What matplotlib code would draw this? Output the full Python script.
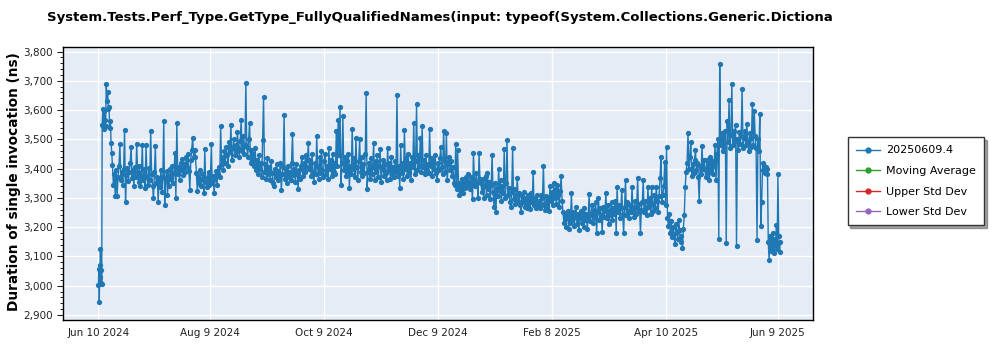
import matplotlib
matplotlib.use("Agg")
import matplotlib.pyplot as plt
from matplotlib.lines import Line2D
from matplotlib.ticker import FuncFormatter, MultipleLocator
import pandas as pd

title = "System.Tests.Perf_Type.GetType_FullyQualifiedNames(input: typeof(System.Collections.Generic.Dictiona"
ylabel = "Duration of single invocation (ns)"
legend_labels = ["20250609.4", "Moving Average", "Upper Std Dev", "Lower Std Dev"]
legend_colors = ["#1f77b4", "#2ca02c", "#d62728", "#9467bd"]
xtick_labels = ["Jun 10 2024", "Aug 9 2024", "Oct 9 2024", "Dec 9 2024",
                "Feb 8 2025", "Apr 10 2025", "Jun 9 2025"]

# measured durations (ns), grouped by period
jun24_a = [3002, 3057, 2945, 3031, 3071, 3124, 3010, 3055, 3007]
jun24_b = [3550, 3602, 3535, 3598, 3566, 3545, 3689, 3630, 3663, 3602, 3610, 3540,
           3561, 3489, 3453, 3413]
jun24_c = [3344, 3380, 3308, 3395, 3307, 3372, 3410, 3483, 3360, 3390, 3345, 3400,
           3532, 3285, 3378, 3402, 3356, 3390, 3420, 3473, 3368, 3395, 3340, 3405,
           3372, 3483]
jul24 = [3390, 3355, 3410, 3340, 3375, 3481, 3362, 3398, 3335, 3480, 3370, 3345,
         3402, 3360, 3529, 3380, 3342, 3299, 3388, 3477, 3350, 3372, 3287, 3365,
         3338, 3395, 3320, 3370, 3564, 3276, 3360, 3392, 3310, 3375, 3340, 3398,
         3365, 3410, 3350, 3385, 3453, 3299, 3557, 3380, 3405, 3360, 3420, 3395,
         3432, 3378, 3415, 3390, 3440, 3405, 3450, 3392, 3327, 3430, 3465, 3504,
         3440, 3464]
aug24 = [3440, 3385, 3322, 3370, 3350, 3395, 3340, 3365, 3380, 3318, 3466, 3355,
         3338, 3372, 3390, 3345, 3360, 3485, 3350, 3375, 3316, 3365, 3392, 3345,
         3380, 3405, 3370, 3546, 3415, 3440, 3395, 3460, 3420, 3475, 3445, 3410,
         3490, 3455, 3550, 3430, 3470, 3500, 3445, 3480, 3460, 3525, 3470, 3440,
         3495, 3567, 3460, 3510, 3450, 3480, 3692, 3475, 3440, 3500, 3557, 3420,
         3465, 3430]
sep24 = [3450, 3410, 3470, 3395, 3430, 3380, 3445, 3400, 3420, 3370, 3498, 3643,
         3390, 3415, 3365, 3435, 3380, 3405, 3360, 3425, 3385, 3350, 3339, 3400,
         3370, 3415, 3360, 3392, 3375, 3420, 3327, 3380, 3405, 3584, 3365, 3395,
         3350, 3410, 3372, 3388, 3360, 3420, 3519, 3378, 3400, 3355, 3415, 3382,
         3330, 3395, 3365, 3410, 3440, 3375, 3420, 3390, 3445, 3405, 3430, 3487]
oct24 = [3400, 3430, 3375, 3450, 3390, 3353, 3420, 3380, 3512, 3405, 3365, 3440,
         3385, 3460, 3395, 3370, 3425, 3450, 3380, 3410, 3365, 3470, 3400, 3430,
         3375, 3450, 3390, 3420, 3380, 3527, 3410, 3567, 3445, 3609, 3344, 3420,
         3578, 3395, 3440, 3375, 3425, 3390, 3450, 3335, 3410, 3380, 3536, 3400,
         3435, 3370, 3505, 3405, 3360, 3425, 3500, 3390, 3440, 3375, 3415, 3385,
         3450, 3658]
nov24 = [3330, 3390, 3420, 3365, 3435, 3380, 3405, 3489, 3360, 3425, 3390, 3445,
         3370, 3410, 3466, 3355, 3400, 3430, 3375, 3415, 3385, 3360, 3472, 3395,
         3420, 3365, 3440, 3380, 3405, 3370, 3425, 3390, 3652, 3375, 3410, 3335,
         3481, 3385, 3420, 3365, 3532, 3400, 3435, 3375, 3450, 3390, 3420, 3360,
         3440, 3405, 3557, 3380, 3425, 3620, 3395, 3445, 3410, 3504, 3390, 3546]
dec24 = [3405, 3430, 3380, 3445, 3395, 3415, 3385, 3536, 3410, 3435, 3375, 3425,
         3400, 3445, 3385, 3360, 3420, 3395, 3435, 3475, 3405, 3380, 3530, 3425,
         3390, 3523, 3360, 3415, 3440, 3395, 3425, 3375, 3405, 3350, 3345, 3485,
         3330, 3464, 3350, 3310, 3340, 3325, 3365, 3315, 3350, 3335, 3370, 3345,
         3380, 3355, 3330, 3372, 3345, 3296, 3453, 3360, 3340, 3385, 3350, 3300,
         3453, 3365]
jan25 = [3350, 3320, 3365, 3300, 3340, 3375, 3310, 3384, 3330, 3355, 3295, 3345,
         3447, 3320, 3270, 3350, 3250, 3335, 3305, 3400, 3325, 3360, 3290, 3340,
         3315, 3467, 3300, 3350, 3497, 3310, 3335, 3285, 3270, 3320, 3472, 3295,
         3330, 3280, 3310, 3367, 3290, 3315, 3275, 3253, 3305, 3285, 3320, 3270,
         3300, 3265, 3310, 3280, 3295, 3262, 3315, 3285, 3390, 3275, 3300, 3265,
         3310, 3280]
feb25 = [3290, 3265, 3310, 3275, 3300, 3409, 3280, 3260, 3305, 3270, 3295, 3255,
         3340, 3290, 3320, 3275, 3350, 3300, 3330, 3280, 3345, 3310, 3270, 3325,
         3373, 3290, 3250, 3215, 3240, 3200, 3230, 3255, 3195, 3240, 3215, 3316,
         3225, 3250, 3205, 3235, 3270, 3210, 3245, 3190, 3230, 3255, 3215, 3240,
         3200, 3265, 3225, 3245, 3195, 3235, 3313, 3220]
mar25 = [3240, 3275, 3215, 3260, 3230, 3285, 3181, 3250, 3301, 3225, 3265, 3240,
         3185, 3270, 3235, 3255, 3316, 3230, 3275, 3210, 3260, 3240, 3285, 3225,
         3265, 3245, 3290, 3181, 3336, 3250, 3275, 3230, 3265, 3327, 3245, 3179,
         3270, 3361, 3240, 3285, 3255, 3230, 3275, 3250, 3336, 3265, 3235, 3290,
         3245, 3270, 3367, 3255, 3280, 3179, 3260, 3285, 3361, 3250, 3290, 3265,
         3240, 3336]
apr25 = [3270, 3300, 3245, 3336, 3280, 3255, 3310, 3265, 3336, 3290, 3250, 3305,
         3367, 3438, 3285, 3310, 3340, 3422, 3275, 3475, 3230, 3205, 3245, 3180,
         3220, 3165, 3200, 3175, 3142, 3210, 3185, 3160, 3225, 3190, 3150, 3170,
         3128, 3195, 3240, 3336, 3390, 3420, 3521, 3400, 3440, 3492, 3375, 3415,
         3385, 3430, 3464, 3395, 3420, 3370, 3290, 3410, 3380, 3478, 3400, 3430]
may25 = [3400, 3370, 3430, 3385, 3415, 3360, 3440, 3395, 3425, 3380, 3410, 3481,
         3361, 3450, 3500, 3159, 3757, 3480, 3520, 3460, 3505, 3475, 3530, 3145,
         3561, 3490, 3633, 3470, 3515, 3689, 3480, 3530, 3495, 3550, 3137, 3500,
         3465, 3525, 3485, 3510, 3673, 3470, 3505, 3530, 3480, 3553, 3495, 3460,
         3520, 3475, 3505, 3621, 3480, 3597, 3510, 3470, 3156, 3500, 3460, 3586,
         3204, 3285]
jun25 = [3420, 3395, 3410, 3385, 3405, 3380, 3398, 3150, 3088, 3170, 3120, 3155,
         3135, 3180, 3110, 3160, 3140, 3207, 3125, 3381, 3170, 3115, 3150]

segments = [
    ("2024-06-10 00:00", "2024-06-11 18:00", jun24_a),
    ("2024-06-12 00:00", "2024-06-17 12:00", jun24_b),
    ("2024-06-18 00:00", "2024-06-30 12:00", jun24_c),
    ("2024-07-01 00:00", "2024-07-31 12:00", jul24),
    ("2024-08-01 00:00", "2024-08-31 12:00", aug24),
    ("2024-09-01 00:00", "2024-09-30 12:00", sep24),
    ("2024-10-01 00:00", "2024-10-31 12:00", oct24),
    ("2024-11-01 00:00", "2024-11-30 12:00", nov24),
    ("2024-12-01 00:00", "2024-12-31 12:00", dec24),
    ("2025-01-01 00:00", "2025-01-31 12:00", jan25),
    ("2025-02-01 00:00", "2025-02-28 12:00", feb25),
    ("2025-03-01 00:00", "2025-03-31 12:00", mar25),
    ("2025-04-01 00:00", "2025-04-30 12:00", apr25),
    ("2025-05-01 00:00", "2025-05-31 12:00", may25),
    ("2025-06-01 00:00", "2025-06-10 12:00", jun25),
]

dates = []
values = []
for start, end, vals in segments:
    dates.extend(pd.date_range(start, end, periods=len(vals)))
    values.extend(vals)

fig = plt.figure(figsize=(10, 3.5), dpi=100)
ax = fig.add_axes([0.063, 0.086, 0.75, 0.781])
ax.set_facecolor("#e5ecf6")

ax.plot(dates, values, "-o", color="#1f77b4", lw=1.0, ms=3.8, mew=0, zorder=3)

ax.set_xlim(pd.Timestamp("2024-05-22"), pd.Timestamp("2025-06-28"))
ax.set_ylim(2883, 3817)
ax.set_xticks(pd.to_datetime(xtick_labels, format="%b %d %Y"))
ax.set_xticklabels(xtick_labels)
ax.yaxis.set_major_locator(MultipleLocator(100))
ax.yaxis.set_minor_locator(MultipleLocator(20))
ax.yaxis.set_major_formatter(FuncFormatter(lambda v, p: f"{v:,.0f}"))
ax.tick_params(axis="both", labelsize=7.5, colors="#222222")
ax.tick_params(axis="x", length=0, pad=6)
ax.tick_params(axis="y", which="major", length=4)
ax.tick_params(axis="y", which="minor", length=2)
ax.grid(True, color="white", lw=1)
ax.set_axisbelow(True)
for s in ax.spines.values():
    s.set_linewidth(1)
    s.set_color("black")

fig.text(0.047, 0.95, title, fontsize=9.5, fontweight="bold", ha="left", va="center")
fig.text(0.014, 0.48, ylabel, fontsize=9.8, fontweight="bold", rotation=90,
         ha="center", va="center")

handles = [Line2D([0], [0], color=c, lw=1, marker="o", ms=3.5) for c in legend_colors]
leg = fig.legend(handles, legend_labels, loc="upper left", bbox_to_anchor=(0.842, 0.624),
                 fontsize=8, frameon=True, fancybox=False, shadow=True,
                 labelspacing=0.95, handlelength=2.2, handletextpad=0.5,
                 borderpad=0.75)
leg.get_frame().set_edgecolor("#333333")
leg.get_frame().set_linewidth(1)

fig.savefig("out.png", dpi=100)
